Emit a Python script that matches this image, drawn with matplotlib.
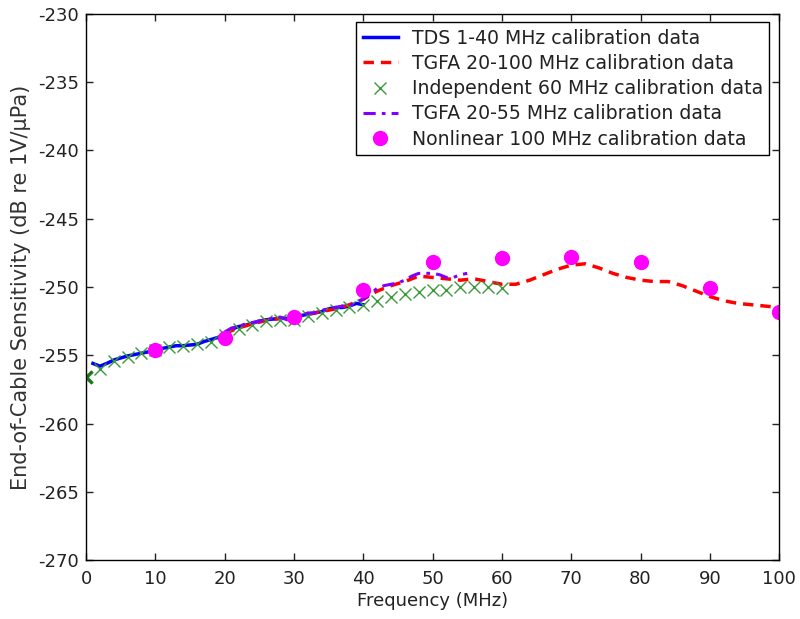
import matplotlib
matplotlib.use("Agg")
import matplotlib.pyplot as plt
import numpy as np

plt.rcParams['font.family'] = ['DejaVu Sans']
plt.rcParams['axes.unicode_minus'] = False

# TDS 1-40 MHz calibration data
tds_f = list(range(1, 41))
tds_s = [-255.6, -255.8, -255.6, -255.35, -255.2, -255.05, -254.95, -254.85, -254.75, -254.6,
         -254.5, -254.4, -254.3, -254.3, -254.25, -254.2, -254.0, -253.85, -253.7, -253.5,
         -253.1, -252.9, -252.8, -252.65, -252.5, -252.4, -252.35, -252.3, -252.3, -252.25,
         -252.1, -252.0, -251.9, -251.8, -251.6, -251.5, -251.5, -251.4, -251.2, -251.3]

# TGFA 20-100 MHz calibration data
tgfa_f = list(range(20, 101, 2))
tgfa_s = [-253.4, -253.0, -252.7, -252.45, -252.3, -252.2, -252.0, -251.8, -251.6, -251.3,
          -250.9, -250.3, -249.9, -249.6, -249.2, -249.3, -249.4, -249.5, -249.4, -249.6,
          -249.8, -249.8, -249.5, -249.1, -248.7, -248.4, -248.3, -248.6, -249.0, -249.3,
          -249.5, -249.6, -249.6, -249.9, -250.3, -250.7, -251.0, -251.2, -251.3, -251.4,
          -251.5]

# Independent 60 MHz calibration data
ind_f = list(range(0, 61, 2))
ind_s = [-256.6, -256.0, -255.4, -255.1, -254.8, -254.6, -254.4, -254.35, -254.2, -254.0,
         -253.5, -253.1, -252.8, -252.5, -252.4, -252.4, -252.1, -251.9, -251.7, -251.5,
         -251.3, -251.0, -250.7, -250.5, -250.4, -250.2, -250.2, -250.0, -250.0, -250.0,
         -250.1]

# TGFA 20-55 MHz calibration data
tgfa55_f = list(range(20, 56))
tgfa55_s = [-253.3, -253.0, -252.9, -252.7, -252.6, -252.5, -252.4, -252.3, -252.2, -252.4,
            -252.3, -252.1, -251.9, -251.9, -251.7, -251.6, -251.5, -251.4, -251.4, -251.1,
            -250.9, -250.5, -250.1, -249.9, -249.8, -249.7, -249.5, -249.2, -249.0, -249.0,
            -249.0, -249.1, -249.3, -249.3, -249.1, -249.0]

# Nonlinear 100 MHz calibration data
nl_f = [10, 20, 30, 40, 50, 60, 70, 80, 90, 100]
nl_s = [-254.6, -253.7, -252.2, -250.2, -248.2, -247.9, -247.8, -248.2, -250.1, -251.8]

fig = plt.figure(figsize=(8, 6.19), dpi=100)
ax = fig.add_axes([0.1075, 0.0953, 0.8665, 0.8821])

ax.plot(tds_f, tds_s, color='#0000ff', lw=2.5, label='TDS 1-40 MHz calibration data')
ax.plot(tgfa_f, tgfa_s, color='#ff0000', lw=2.5, ls='--', dashes=(3, 2),
        label='TGFA 20-100 MHz calibration data')
ax.plot(ind_f, ind_s, color='#3a9a3a', ls='none', marker='x', ms=8, mew=1.0,
        label='Independent 60 MHz calibration data')
ax.plot(ind_f[0], ind_s[0], color='#1a7a1a', ls='none', marker='x', ms=9, mew=2.5)
ax.plot(tgfa55_f, tgfa55_s, color='#8000ff', lw=2.2, ls='-.', dashes=(4, 2, 1.2, 2),
        label='TGFA 20-55 MHz calibration data')
ax.plot(nl_f, nl_s, color='#ff00ff', ls='none', marker='o', ms=10, mec='#ff00ff',
        label='Nonlinear 100 MHz calibration data')

ax.set_xlim(0, 100)
ax.set_ylim(-270, -230)
ax.set_xticks(np.arange(0, 101, 10))
ax.set_yticks(np.arange(-270, -229, 5))
ax.tick_params(direction='in', top=True, right=True, length=5, labelsize=13, width=1,
               colors='#222222')
ax.tick_params(axis='x', pad=7)
ax.tick_params(axis='y', pad=5)
for s in ax.spines.values():
    s.set_linewidth(1)

ax.set_xlabel('Frequency (MHz)', fontsize=13, labelpad=3, color='#222222')
ax.set_ylabel('End-of-Cable Sensitivity (dB re 1V/µPa)', fontsize=15, labelpad=5,
              color='#333333')

leg = ax.legend(loc='upper right', bbox_to_anchor=(0.986, 0.985), fontsize=13.6,
                fancybox=False, edgecolor='black', framealpha=1, handlelength=1.9,
                borderpad=0.35, labelspacing=0.33, handletextpad=0.7, borderaxespad=0)
leg.get_frame().set_linewidth(1)
for t in leg.get_texts():
    t.set_color('#222222')

fig.savefig('out.png', dpi=100)
